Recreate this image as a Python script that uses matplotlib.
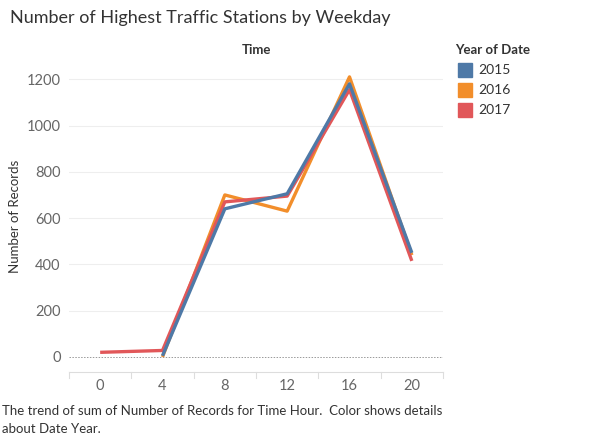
import matplotlib.pyplot as plt
from matplotlib.patches import Rectangle

plt.rcParams['font.family'] = ['Lato', 'DejaVu Sans']

hours = [0, 4, 8, 12, 16, 20]
years = ['2015', '2016', '2017']
colors = ['#4e79a7', '#f28e2b', '#e15759']

# values (None = no point)
rec_2015 = [None, 5, 640, 705, 1180, 450]
rec_2016 = [None, 0, 700, 630, 1210, 440]
rec_2017 = [20, 28, 670, 695, 1155, 415]
series = [rec_2015, rec_2016, rec_2017]

caption = ['The trend of sum of Number of Records for Time Hour.  Color shows details',
           'about Date Year.']

fig = plt.figure(figsize=(6, 4.38), dpi=100)
ax = fig.add_axes([69/600, 1 - 372/438, (443 - 69)/600, (372 - 60)/438])

# draw order: orange, red, blue on top
zorders = {0: 6, 1: 4, 2: 5}
for i in [1, 2, 0]:
    xs = [h for h, v in zip(hours, series[i]) if v is not None]
    ys = [v for v in series[i] if v is not None]
    ax.plot(xs, ys, color=colors[i], lw=2.4, solid_capstyle='butt', zorder=zorders[i])

ax.set_xlim(-2, 22)
ax.set_ylim(-65, 1283)
ax.set_yticks([0, 200, 400, 600, 800, 1000, 1200])
ax.set_xticks(hours)
for y in [200, 400, 600, 800, 1000, 1200]:
    ax.axhline(y, color='#eeeeee', lw=0.8, zorder=1)
ax.axhline(0, color='#999999', lw=0.7, ls=(0, (1.5, 1.5)), zorder=1)

for s in ['top', 'right', 'left']:
    ax.spines[s].set_visible(False)
ax.spines['bottom'].set_color('#dddddd')
ax.tick_params(axis='y', length=0, labelsize=10.5, colors='#666666', pad=6)
ax.tick_params(axis='x', length=0, labelsize=10.5, colors='#666666', pad=5)
# band separators below the axis
for b in range(-2, 23, 4):
    ax.plot([b, b], [0, -0.02], transform=ax.get_xaxis_transform(), color='#dddddd',
            lw=0.8, clip_on=False)

ax.set_ylabel('Number of Records', fontsize=9.5, color='#333333', labelpad=4)
ax.set_title('Time', fontsize=9.5, fontweight='bold', color='#333333', pad=4)

fig.text(10/600, 1 - 18/438, 'Number of Highest Traffic Stations by Weekday',
         fontsize=13, color='#333333', va='center')

# legend
fig.text(455/600, 1 - 50/438, 'Year of Date', fontsize=9.5, fontweight='bold',
         color='#333333', va='center')
for i, (yr, c) in enumerate(zip(years, colors)):
    yc = 70 + 20 * i
    fig.patches.append(Rectangle((458/600, 1 - (yc + 7)/438), 14/600, 14/438,
                                 transform=fig.transFigure, color=c))
    fig.text(478/600, 1 - yc/438, yr, fontsize=10, color='#333333', va='center')

for k, line in enumerate(caption):
    fig.text(2/600, 1 - (411 + 18 * k)/438, line, fontsize=9.5, color='#333333',
             va='center')

fig.savefig('out.png', dpi=100)
